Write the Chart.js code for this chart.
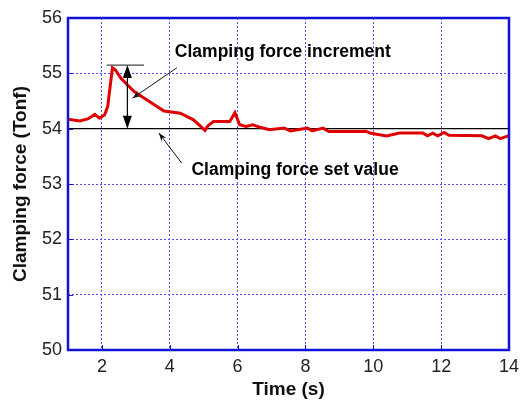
<!DOCTYPE html>
<html><head><meta charset="utf-8">
<script src="https://cdn.jsdelivr.net/npm/chart.js@4.4.1/dist/chart.umd.min.js"></script>
<style>html,body{margin:0;padding:0;background:#fff}#wrap{width:525px;height:401px}</style>
</head><body><div id="wrap"><canvas id="c" width="525" height="401"></canvas></div>
<script>
// Data
const timeS = [1.0,1.35,1.6,1.79,1.93,2.08,2.17,2.31,2.4,2.56,2.95,3.33,3.83,4.31,4.70,5.04,5.12,5.29,5.77,5.92,6.06,6.25,6.45,6.69,6.94,7.37,7.56,8.06,8.2,8.52,8.69,9.8,9.9,10.1,10.39,10.77,11.46,11.6,11.75,11.9,12.09,12.23,13.2,13.4,13.6,13.74,13.98];
const forceTonf = [54.17,54.14,54.18,54.26,54.19,54.25,54.40,55.10,55.06,54.91,54.67,54.52,54.32,54.28,54.16,53.97,54.05,54.13,54.13,54.29,54.07,54.04,54.07,54.02,53.98,54.01,53.96,54.01,53.96,54.01,53.95,53.95,53.92,53.90,53.87,53.92,53.92,53.87,53.92,53.87,53.93,53.88,53.87,53.82,53.87,53.82,53.87];
const xTicks = [2,4,6,8,10,12,14];
const yTicks = [50,51,52,53,54,55,56];
const setValue = 54;
const peakMarkX = [2.14, 3.24];
const peakMarkY = 55.15;
const incrementArrowX = 2.75;
const labelIncrement = {text:'Clamping force increment', x:4.15, y:55.39, from:[4.21,55.10], to:[2.90,54.55]};
const labelSetValue = {text:'Clamping force set value', x:4.64, y:53.25, from:[4.35,53.38], to:[3.68,53.92]};

const BLUE = '#1010d8';
const GRID = '#5050f0';
const FONT = 'Arial, "Liberation Sans", sans-serif';
const annot = {
  id:'annot',
  beforeDatasetsDraw(chart){
    const {ctx, chartArea:a, scales:{x,y}} = chart;
    ctx.save();
    ctx.strokeStyle='#000'; ctx.lineWidth=1.2;
    const ys = y.getPixelForValue(setValue);
    ctx.beginPath(); ctx.moveTo(a.left, ys); ctx.lineTo(a.right, ys); ctx.stroke();
    ctx.restore();
  },
  afterDatasetsDraw(chart){
    const {ctx, chartArea:a, scales:{x,y}} = chart;
    ctx.save();
    ctx.strokeStyle=BLUE; ctx.lineWidth=1;
    xTicks.forEach(v=>{const px=Math.round(x.getPixelForValue(v))+0.5;ctx.beginPath();ctx.moveTo(px,a.bottom);ctx.lineTo(px,a.bottom-5);ctx.stroke();});
    yTicks.forEach(v=>{const py=Math.round(y.getPixelForValue(v))+0.5;ctx.beginPath();ctx.moveTo(a.left,py);ctx.lineTo(a.left+5,py);ctx.stroke();});
    ctx.strokeStyle=BLUE; ctx.lineWidth=2.5;
    ctx.strokeRect(a.left, a.top, a.right-a.left, a.bottom-a.top);
    ctx.strokeStyle='#444'; ctx.lineWidth=1.2;
    const yp = y.getPixelForValue(peakMarkY);
    ctx.beginPath(); ctx.moveTo(x.getPixelForValue(peakMarkX[0]), yp); ctx.lineTo(x.getPixelForValue(peakMarkX[1]), yp); ctx.stroke();
    const xa = x.getPixelForValue(incrementArrowX), ys = y.getPixelForValue(setValue);
    ctx.strokeStyle='#000'; ctx.lineWidth=1.2;
    ctx.beginPath(); ctx.moveTo(xa, yp+4); ctx.lineTo(xa, ys-4); ctx.stroke();
    ctx.fillStyle='#000';
    ctx.beginPath(); ctx.moveTo(xa, yp); ctx.lineTo(xa-4.5, yp+13); ctx.lineTo(xa+4.5, yp+13); ctx.closePath(); ctx.fill();
    ctx.beginPath(); ctx.moveTo(xa, ys); ctx.lineTo(xa-4.5, ys-13); ctx.lineTo(xa+4.5, ys-13); ctx.closePath(); ctx.fill();
    [labelIncrement, labelSetValue].forEach(L=>{
      const x0=x.getPixelForValue(L.from[0]), y0=y.getPixelForValue(L.from[1]);
      const x1=x.getPixelForValue(L.to[0]), y1=y.getPixelForValue(L.to[1]);
      ctx.strokeStyle='#111'; ctx.lineWidth=1;
      ctx.beginPath(); ctx.moveTo(x0,y0); ctx.lineTo(x1,y1); ctx.stroke();
      const ang=Math.atan2(y1-y0,x1-x0), len=9, w=0.35;
      ctx.fillStyle='#111';
      ctx.beginPath(); ctx.moveTo(x1,y1);
      ctx.lineTo(x1-len*Math.cos(ang-w), y1-len*Math.sin(ang-w));
      ctx.lineTo(x1-len*0.6*Math.cos(ang), y1-len*0.6*Math.sin(ang));
      ctx.lineTo(x1-len*Math.cos(ang+w), y1-len*Math.sin(ang+w));
      ctx.closePath(); ctx.fill();
      ctx.fillStyle='#000'; ctx.font='bold 17.5px '+FONT;
      ctx.textAlign='left'; ctx.textBaseline='middle';
      ctx.fillText(L.text, x.getPixelForValue(L.x), y.getPixelForValue(L.y));
    });
    ctx.restore();
  }
};

new Chart(document.getElementById('c'), {
  type:'line',
  data:{datasets:[{
    data: timeS.map((t,i)=>({x:t,y:forceTonf[i]})),
    borderColor:'#e00000', borderWidth:3, pointRadius:0, tension:0, fill:false
  }]},
  options:{
    responsive:false, animation:false, devicePixelRatio:1,
    layout:{padding:{left:0,right:11,top:18,bottom:0}},
    plugins:{legend:{display:false},tooltip:{enabled:false}},
    scales:{
      x:{type:'linear', min:1, max:14,
        afterBuildTicks:s=>{s.ticks=xTicks.map(v=>({value:v}));},
        afterFit:s=>{s.height=51;},
        grid:{color:GRID, lineWidth:1, drawTicks:false},
        border:{display:false, dash:[2,2]},
        ticks:{padding:6, color:'#222', font:{family:FONT, size:18}, maxRotation:0},
        title:{display:true, text:'Time (s)', color:'#111', font:{family:FONT, size:19, weight:'bold'}, padding:{top:4,bottom:0}}
      },
      y:{type:'linear', min:50, max:56,
        afterBuildTicks:s=>{s.ticks=yTicks.map(v=>({value:v}));},
        afterFit:s=>{s.width=68;},
        grid:{color:GRID, lineWidth:1, drawTicks:false},
        border:{display:false, dash:[2,2]},
        ticks:{padding:6, color:'#222', font:{family:FONT, size:18}},
        title:{display:true, text:'Clamping force (Tonf)', color:'#111', font:{family:FONT, size:19, weight:'bold'}, padding:{top:9,bottom:4}}
      }
    }
  },
  plugins:[annot]
});
</script></body></html>
